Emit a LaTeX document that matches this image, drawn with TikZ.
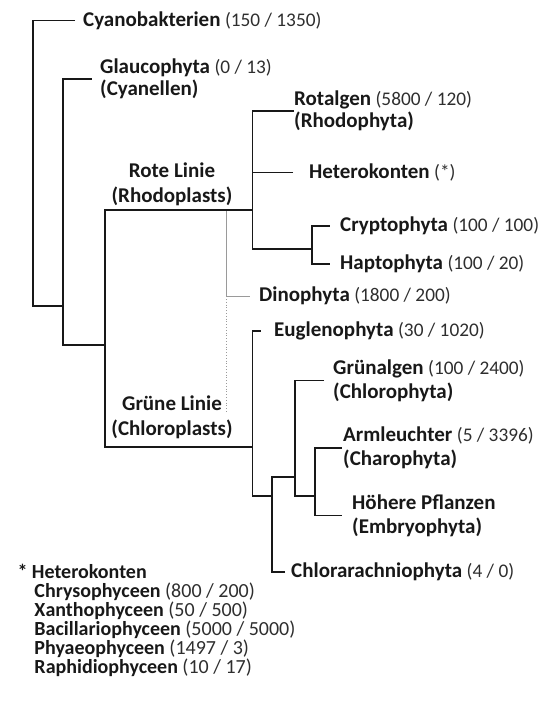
\documentclass[tikz,border=0pt]{standalone}
\usepackage{fontspec}
\setmainfont{Carlito}
\definecolor{ink}{HTML}{181818}
\definecolor{numgray}{HTML}{2E2E2E}
\definecolor{thin}{HTML}{9A9A9A}
\newcommand{\nm}[1]{{\fontsize{21}{22}\selectfont\bfseries #1}}
\newcommand{\nr}[1]{{\fontsize{19.3}{22}\selectfont\color{numgray}#1}}
\newcommand{\fnm}[1]{{\bfseries #1}}
\newcommand{\fnr}[1]{{\color{numgray}#1}}
\begin{document}
\begin{tikzpicture}[x=1pt,y=-1pt,
  every node/.style={text=ink, inner ysep=0pt},
  leaf/.style={anchor=west, align=left},
  lead/.style={font=\fontsize{20}{#1}\selectfont},
  branch/.style={draw=ink, line width=1.9pt, line join=miter},
  faint/.style={draw=thin, line width=0.8pt}]
\useasboundingbox (0,0) rectangle (541,709);
% leaves
\node[leaf, inner xsep=8pt, lead=22] (cyano) at (75,20.5) {\nm{Cyanobakterien} \nr{(150 / 1350)}};
\node[leaf, inner xsep=8.5pt, lead=22.5] (glauco) at (91.5,79) {\nm{Glaucophyta} \nr{(0 / 13)}\\\nm{(Cyanellen)}};
\node[leaf, inner xsep=0pt, lead=22.5] (rot) at (294,111) {\nm{Rotalgen} \nr{(5800 / 120)}\\\nm{(Rhodophyta)}};
\node[leaf, inner xsep=16pt, lead=22] (het) at (293,172.5) {\nm{Heterokonten} \nr{(*)}};
\node[leaf, inner xsep=10.5pt, lead=22] (crypto) at (329.5,226) {\nm{Cryptophyta} \nr{(100 / 100)}};
\node[leaf, inner xsep=10.5pt, lead=22] (hap) at (329.5,264) {\nm{Haptophyta} \nr{(100 / 20)}};
\node[leaf, inner xsep=9pt, lead=22] (dino) at (250,296) {\nm{Dinophyta} \nr{(1800 / 200)}};
\node[leaf, inner xsep=13.5pt, lead=22] (eug) at (260.5,331) {\nm{Euglenophyta} \nr{(30 / 1020)}};
\node[leaf, inner xsep=9pt, lead=24] (gruen) at (324,380.5) {\nm{Grünalgen} \nr{(100 / 2400)}\\\nm{(Chlorophyta)}};
\node[leaf, inner xsep=1.5pt, lead=24] (arm) at (341.5,448) {\nm{Armleuchter} \nr{(5 / 3396)}\\\nm{(Charophyta)}};
\node[leaf, inner xsep=10.5pt, lead=24] (hoe) at (341.5,515.5) {\nm{Höhere Pflanzen}\\\nm{(Embryophyta)}};
\node[leaf, inner xsep=6pt, lead=22] (chl) at (285,572) {\nm{Chlorarachniophyta} \nr{(4 / 0)}};
% clade labels
\node[align=center, lead=25] (rote) at (172,184.5) {\nm{Rote Linie}\\\nm{(Rhodoplasts)}};
\node[align=center, lead=25] (gruene) at (172,417.5) {\nm{Grüne Linie}\\\nm{(Chloroplasts)}};
% footnote
\node[anchor=west, align=left, inner xsep=0pt, lead=19] (foot) at (17.3,620)
  {\fnm{* Heterokonten}\\
   \hspace*{17pt}\fnm{Chrysophyceen} \fnr{(800 / 200)}\\
   \hspace*{17pt}\fnm{Xanthophyceen} \fnr{(50 / 500)}\\
   \hspace*{17pt}\fnm{Bacillariophyceen} \fnr{(5000 / 5000)}\\
   \hspace*{17pt}\fnm{Phyaeophyceen} \fnr{(1497 / 3)}\\
   \hspace*{17pt}\fnm{Raphidiophyceen} \fnr{(10 / 17)}};
% junctions
\coordinate (j1) at (32.7,306);
\coordinate (j2) at (62.8,306);
\coordinate (j3) at (62.8,345);
\coordinate (j4) at (105.2,345);
\coordinate (rj) at (252.5,210);
\coordinate (lb) at (105.2,447);
\coordinate (gj) at (252.5,447);
\coordinate (rb) at (252.5,249);
\coordinate (cj) at (312,249);
\coordinate (dtop) at (226.5,211);
\coordinate (dj) at (226.5,299);
\coordinate (dbot) at (226.5,412);
\coordinate (gb) at (252.5,496);
\coordinate (g2) at (271.7,496);
\coordinate (g3) at (271.7,477);
\coordinate (g4) at (295,477);
\coordinate (g5) at (295,496);
\coordinate (g6) at (314.6,496);
% connectors
\draw[branch] (cyano.west) -| (j1) -- (j2);
\draw[branch] (glauco.west) -| (j3) -- (j4);
\draw[branch] (rj) -| (lb) -- (gj);
\draw[branch] (rot.west) -| (rb) -- (cj);
\draw[branch] (het.west) -- (het.west -| rb);
\draw[branch] (crypto.west) -| (cj) |- (hap.west);
\draw[faint] (dtop) |- (dino.west);
\draw[faint, dotted] (dj) -- (dbot);
\draw[branch] (eug.west) -| (gb) -- (g2);
\draw[branch] (chl.west) -| (g3) -- (g4);
\draw[branch] (gruen.west) -| (g5) -- (g6);
\draw[branch] (arm.west) -| (g6) |- (hoe.west);
\end{tikzpicture}
\end{document}
